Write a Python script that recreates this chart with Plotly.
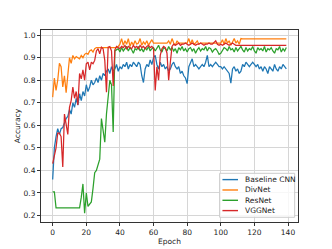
import plotly.graph_objects as go

epochs = list(range(140))

baseline_cnn = [
    0.36, 0.50, 0.55, 0.585, 0.56, 0.585, 0.59, 0.61, 0.63, 0.64,
    0.67, 0.65, 0.70, 0.68, 0.72, 0.69, 0.74, 0.71, 0.75, 0.73,
    0.78, 0.75, 0.77, 0.80, 0.78, 0.79, 0.81, 0.79, 0.82, 0.80,
    0.83, 0.82, 0.84, 0.85, 0.83, 0.86, 0.84, 0.85, 0.87, 0.84,
    0.86, 0.85, 0.87, 0.86, 0.88, 0.85, 0.87, 0.86, 0.88, 0.87,
    0.86, 0.88, 0.87, 0.82, 0.79, 0.85, 0.87, 0.86, 0.89, 0.87,
    0.90, 0.91, 0.87, 0.85, 0.88, 0.86, 0.87, 0.85, 0.86, 0.84,
    0.85, 0.87, 0.88, 0.86, 0.85, 0.86, 0.83, 0.84, 0.82, 0.81,
    0.785, 0.86, 0.88, 0.895, 0.86, 0.87, 0.86, 0.85, 0.86, 0.87,
    0.86, 0.88, 0.91, 0.86, 0.87, 0.86, 0.87, 0.88, 0.87, 0.86,
    0.86, 0.85, 0.86, 0.85, 0.84, 0.83, 0.787, 0.85, 0.86, 0.84,
    0.85, 0.83, 0.84, 0.87, 0.86, 0.88, 0.87, 0.86, 0.87, 0.88,
    0.87, 0.86, 0.87, 0.85, 0.86, 0.84, 0.86, 0.85, 0.83, 0.86,
    0.85, 0.84, 0.87, 0.85, 0.84, 0.86, 0.85, 0.87, 0.86, 0.85,
]

divnet = [
    0.725, 0.81, 0.755, 0.80, 0.875, 0.86, 0.77, 0.82, 0.745, 0.84,
    0.90, 0.875, 0.91, 0.895, 0.905, 0.90, 0.895, 0.91, 0.90, 0.915,
    0.92, 0.915, 0.93, 0.935, 0.925, 0.94, 0.945, 0.945, 0.945, 0.945,
    0.945, 0.945, 0.945, 0.945, 0.945, 0.945, 0.945, 0.945, 0.945, 0.95,
    0.96, 0.985, 0.955, 0.975, 0.96, 0.985, 0.95, 0.97, 0.955, 0.975,
    0.96, 0.965, 0.985, 0.955, 0.97, 0.96, 0.975, 0.955, 0.97, 0.98,
    0.965, 0.965, 0.965, 0.965, 0.965, 0.965, 0.965, 0.965, 0.965, 0.975,
    0.96, 0.985, 0.965, 0.955, 0.975, 0.965, 0.965, 0.965, 0.965, 0.965,
    0.965, 0.985, 0.96, 0.98, 0.96, 0.965, 0.975, 0.96, 0.965, 0.965,
    0.965, 0.965, 0.965, 0.965, 0.965, 0.965, 0.965, 0.965, 0.965, 0.965,
    0.965, 0.98, 0.96, 0.985, 0.965, 0.975, 0.955, 0.97, 0.985, 0.965,
    0.975, 0.96, 0.985, 0.984, 0.984, 0.984, 0.984, 0.984, 0.984, 0.984,
    0.984, 0.984, 0.984, 0.984, 0.984, 0.984, 0.984, 0.984, 0.984, 0.984,
    0.984, 0.984, 0.984, 0.984, 0.984, 0.984, 0.984, 0.984, 0.984, 0.984,
]

resnet = [
    0.305, 0.305, 0.234, 0.234, 0.234, 0.234, 0.234, 0.234, 0.234, 0.234,
    0.234, 0.234, 0.234, 0.234, 0.234, 0.234, 0.234, 0.28, 0.34, 0.21,
    0.30, 0.24, 0.25, 0.26, 0.32, 0.39, 0.40, 0.43, 0.45, 0.63,
    0.58, 0.525, 0.65, 0.74, 0.80, 0.78, 0.57, 0.93, 0.935, 0.94,
    0.925, 0.945, 0.93, 0.94, 0.95, 0.93, 0.945, 0.935, 0.92, 0.94,
    0.935, 0.95, 0.93, 0.94, 0.925, 0.945, 0.935, 0.95, 0.93, 0.94,
    0.945, 0.93, 0.94, 0.955, 0.935, 0.925, 0.945, 0.94, 0.93, 0.95,
    0.935, 0.945, 0.93, 0.94, 0.92, 0.945, 0.935, 0.95, 0.93, 0.94,
    0.925, 0.94, 0.945, 0.93, 0.94, 0.92, 0.935, 0.945, 0.93, 0.94,
    0.935, 0.95, 0.93, 0.945, 0.94, 0.925, 0.935, 0.94, 0.93, 0.915,
    0.92, 0.935, 0.945, 0.94, 0.93, 0.95, 0.935, 0.94, 0.925, 0.945,
    0.93, 0.94, 0.95, 0.935, 0.925, 0.945, 0.93, 0.94, 0.935, 0.95,
    0.93, 0.92, 0.945, 0.935, 0.94, 0.93, 0.95, 0.925, 0.94, 0.935,
    0.945, 0.93, 0.92, 0.94, 0.935, 0.95, 0.925, 0.94, 0.93, 0.945,
]

vggnet = [
    0.43, 0.47, 0.50, 0.565, 0.565, 0.55, 0.415, 0.65, 0.61, 0.56,
    0.68, 0.71, 0.77, 0.72, 0.75, 0.69, 0.83, 0.806, 0.846, 0.80,
    0.873, 0.88, 0.846, 0.88, 0.873, 0.888, 0.93, 0.94, 0.917, 0.947,
    0.94, 0.888, 0.747, 0.947, 0.95, 0.93, 0.775, 0.935, 0.95, 0.945,
    0.94, 0.95, 0.945, 0.955, 0.94, 0.95, 0.945, 0.94, 0.955, 0.945,
    0.95, 0.94, 0.955, 0.945, 0.95, 0.94, 0.95, 0.955, 0.945, 0.95,
    0.94, 0.755, 0.86, 0.80, 0.91, 0.94, 0.95, 0.945, 0.92, 0.80,
    0.88, 0.95, 0.96, 0.955, 0.96, 0.965, 0.955, 0.96, 0.96, 0.965,
    0.96, 0.955, 0.96, 0.965, 0.96, 0.955, 0.96, 0.96, 0.965, 0.96,
    0.955, 0.96, 0.96, 0.965, 0.96, 0.96, 0.97, 0.975, 0.96, 0.955,
    0.96, 0.955, 0.96, 0.965, 0.96, 0.955, 0.96, 0.965, 0.96, 0.955,
    0.955, 0.955, 0.955, 0.955, 0.955, 0.955, 0.955, 0.955, 0.955, 0.955,
    0.955, 0.955, 0.955, 0.955, 0.955, 0.955, 0.955, 0.955, 0.955, 0.955,
    0.955, 0.955, 0.955, 0.955, 0.955, 0.955, 0.955, 0.955, 0.955, 0.955,
]

series_names = ["Baseline CNN", "DivNet", "ResNet", "VGGNet"]
series_values = [baseline_cnn, divnet, resnet, vggnet]
series_colors = ["#1f77b4", "#ff7f0e", "#2ca02c", "#d62728"]

x_ticks = [0, 20, 40, 60, 80, 100, 120, 140]
y_ticks = [0.2, 0.3, 0.4, 0.5, 0.6, 0.7, 0.8, 0.9, 1.0]

FONT = "DejaVu Sans"
TXT = "#222222"

fig = go.Figure()
for name, vals, col in zip(series_names, series_values, series_colors):
    fig.add_trace(go.Scatter(x=epochs, y=vals, mode="lines", name=name,
                             line=dict(color=col, width=1.25)))

axis_common = dict(
    showline=True, linecolor="#333333", linewidth=1, mirror=True,
    showgrid=True, gridcolor="#d6d6d6", gridwidth=1.3,
    zeroline=False, ticks="outside", ticklen=3, tickwidth=0.8, tickcolor="#333333",
    tickfont=dict(family=FONT, size=7.5, color=TXT), automargin=False,
)

# custom compact legend (matplotlib-like), placed in paper coordinates
shapes = [dict(type="rect", xref="paper", yref="paper",
               x0=0.695, x1=0.987, y0=0.0245, y1=0.2536,
               fillcolor="rgba(255,255,255,0.8)", line=dict(color="#cccccc", width=1),
               layer="above")]
annotations = []
row_y = [0.2208, 0.1667, 0.113, 0.0594]
for name, col, yy in zip(series_names, series_colors, row_y):
    shapes.append(dict(type="line", xref="paper", yref="paper",
                       x0=0.706, x1=0.7665, y0=yy, y1=yy,
                       line=dict(color=col, width=1.4), layer="above"))
    annotations.append(dict(xref="paper", yref="paper", x=0.786, y=yy,
                            xanchor="left", yanchor="middle", text=name,
                            showarrow=False,
                            font=dict(family=FONT, size=7.5, color=TXT)))

fig.update_layout(
    width=332, height=249,
    margin=dict(l=33.3, r=41.7, t=21.7, b=35.3, autoexpand=False),
    paper_bgcolor="white", plot_bgcolor="white",
    font=dict(family=FONT, size=7.5, color=TXT),
    xaxis=dict(range=[-6.95, 145.95], tickvals=x_ticks,
               title=dict(text="Epoch", font=dict(size=7.5), standoff=2),
               **axis_common),
    yaxis=dict(range=[0.171, 1.023], tickvals=y_ticks, tickformat=".1f",
               title=dict(text="Accuracy", font=dict(size=7.5), standoff=1),
               **axis_common),
    showlegend=False,
    shapes=shapes,
    annotations=annotations,
)

fig.write_html("out.html")
